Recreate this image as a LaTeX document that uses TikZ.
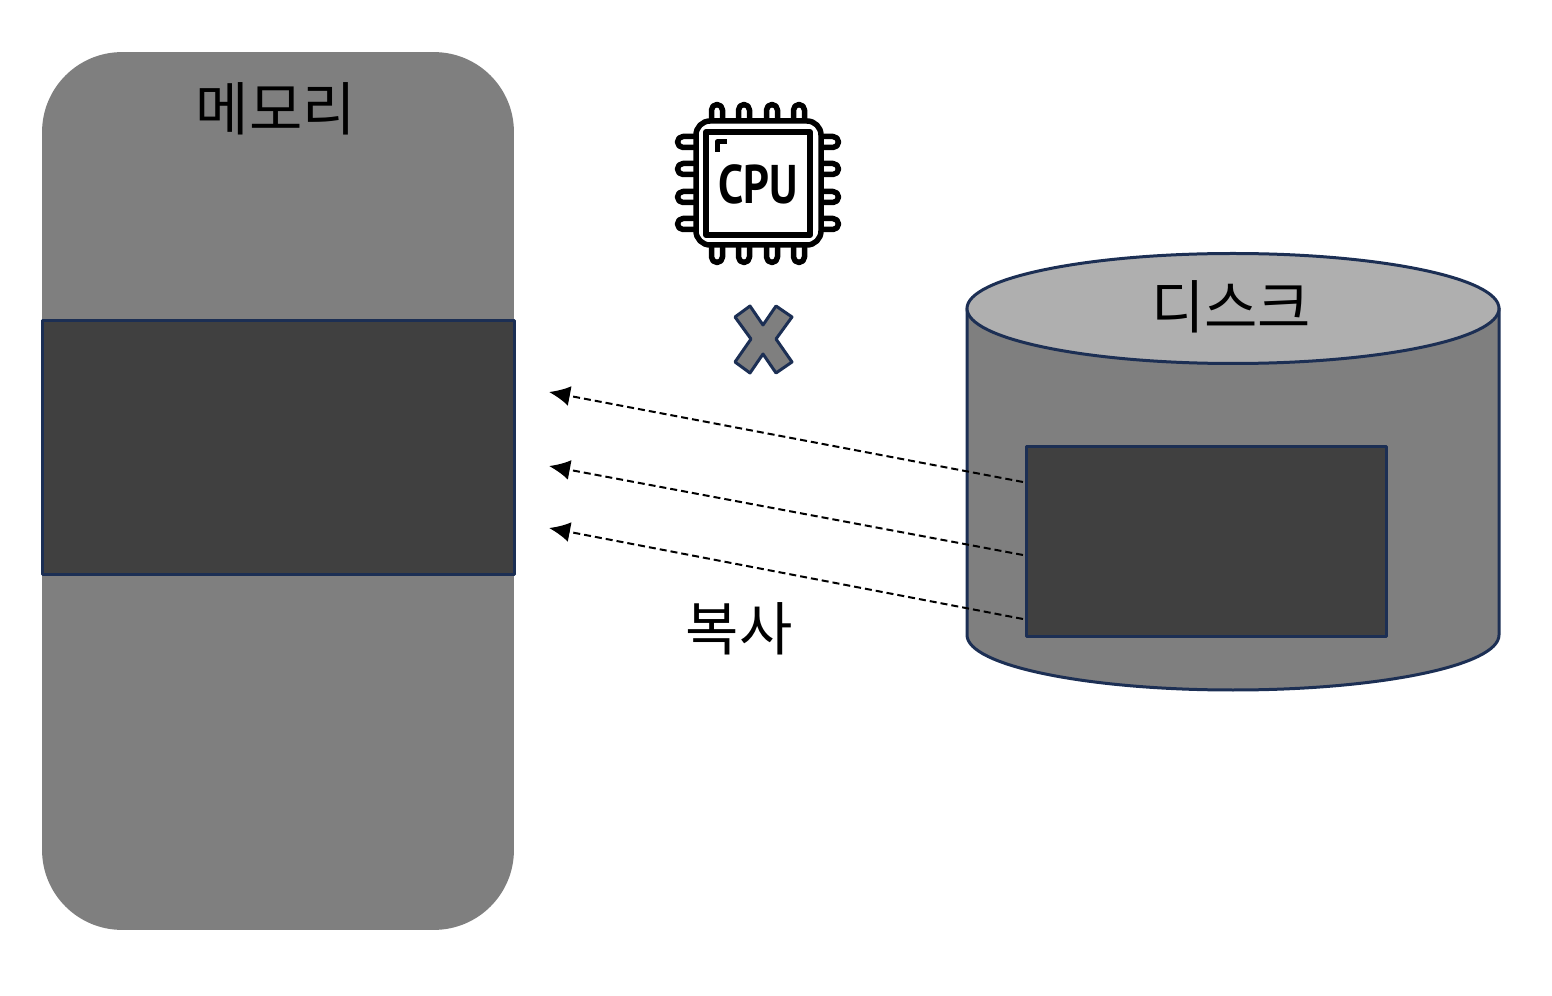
\documentclass[tikz,border=0pt]{standalone}
\usepackage{fontspec}
\newfontfamily\krfont{Noto Sans CJK KR}
\newfontfamily\chipfont{PT Sans}
\usetikzlibrary{arrows.meta}

\definecolor{bodygray}{HTML}{7F7F7F}
\definecolor{blockgray}{HTML}{404040}
\definecolor{lidgray}{HTML}{AFAFAF}
\definecolor{edgeblue}{HTML}{1C2F54}

\tikzset{
    label/.style={font=\krfont\fontsize{33}{37}\selectfont, text=black, inner sep=0pt},
    blockbox/.style={draw=edgeblue, fill=blockgray, line width=0.06cm, outer sep=0pt, inner sep=0pt},
    diskline/.style={draw=edgeblue, line width=0.06cm},
    copyline/.style={-{Latex[length=0.42cm, width=0.4cm]}, line width=0.04cm, dash pattern=on 0.14cm off 0.08cm},
    chipline/.style={draw=black, line width=0.11cm},
}

\begin{document}
\begin{tikzpicture}[x=0.02cm, y=-0.02cm, line join=round]
    \useasboundingbox (0,0) rectangle (1552,996);

    % memory
    \node[fill=bodygray, rounded corners=1.6cm, minimum width=9.44cm, minimum height=17.56cm, inner sep=0pt, outer sep=0pt] (memory) at (278,491) {};
    \node[blockbox, minimum width=9.46cm, minimum height=5.1cm] (memblock) at (278.5,447.5) {};
    \node[label] (memlabel) at (276,109) {메모리};

    % disk
    \draw[diskline, fill=bodygray] (967,308) -- (967,635) arc (180:0:266 and 55) -- (1499,308) -- cycle;
    \draw[diskline, fill=lidgray] (1233,308.5) ellipse [x radius=266, y radius=55];
    \node[blockbox, minimum width=7.22cm, minimum height=3.82cm] (diskblock) at (1206.5,541.5) {};
    \node[label] (disklabel) at (1231,307) {디스크};

    % cpu pins
    \foreach \p in {717,744,772,799} {
        \draw[chipline, fill=white] (\p-5.5,122) -- (\p-5.5,110) arc (180:360:5.5) -- (\p+5.5,122);
        \draw[chipline, fill=white] (\p-5.5,244) -- (\p-5.5,257) arc (180:0:5.5) -- (\p+5.5,244);
    }
    \foreach \q in {142,169,197,224} {
        \draw[chipline, fill=white] (697,\q-5.5) -- (683,\q-5.5) arc (270:90:5.5) -- (697,\q+5.5);
        \draw[chipline, fill=white] (820,\q-5.5) -- (833,\q-5.5) arc (270:450:5.5) -- (820,\q+5.5);
    }
    % cpu chip
    \draw[chipline, fill=white, rounded corners=0.28cm] (696,121) rectangle (821,245);
    \draw[chipline, line width=0.12cm] (706,132) rectangle (810,235);
    \draw[black, line width=0.1cm] (717,152) -- (717,142) -- (727,142);
    \node[font=\chipfont\bfseries\fontsize{31}{35}\selectfont, xscale=0.83, inner sep=0pt] (cpulabel) at (758,184) {CPU};

    % x mark
    \draw[draw=edgeblue, fill=bodygray, line width=0.06cm]
        (750,306) -- (763,325) -- (776,306) -- (792,317) -- (776,339) -- (792,362)
        -- (776,373) -- (763,354) -- (750,373) -- (735,362) -- (751,339) -- (735,317) -- cycle;

    % copy arrows
    \coordinate (from1) at (1023,482);
    \coordinate (from2) at (1023,555);
    \coordinate (from3) at (1023,619);
    \coordinate (to1) at (549,392);
    \coordinate (to2) at (549,466);
    \coordinate (to3) at (549,528);
    \draw[copyline] (from1) -- (to1);
    \draw[copyline] (from2) -- (to2);
    \draw[copyline] (from3) -- (to3);
    \node[label] (copylabel) at (739,629) {복사};
\end{tikzpicture}
\end{document}
